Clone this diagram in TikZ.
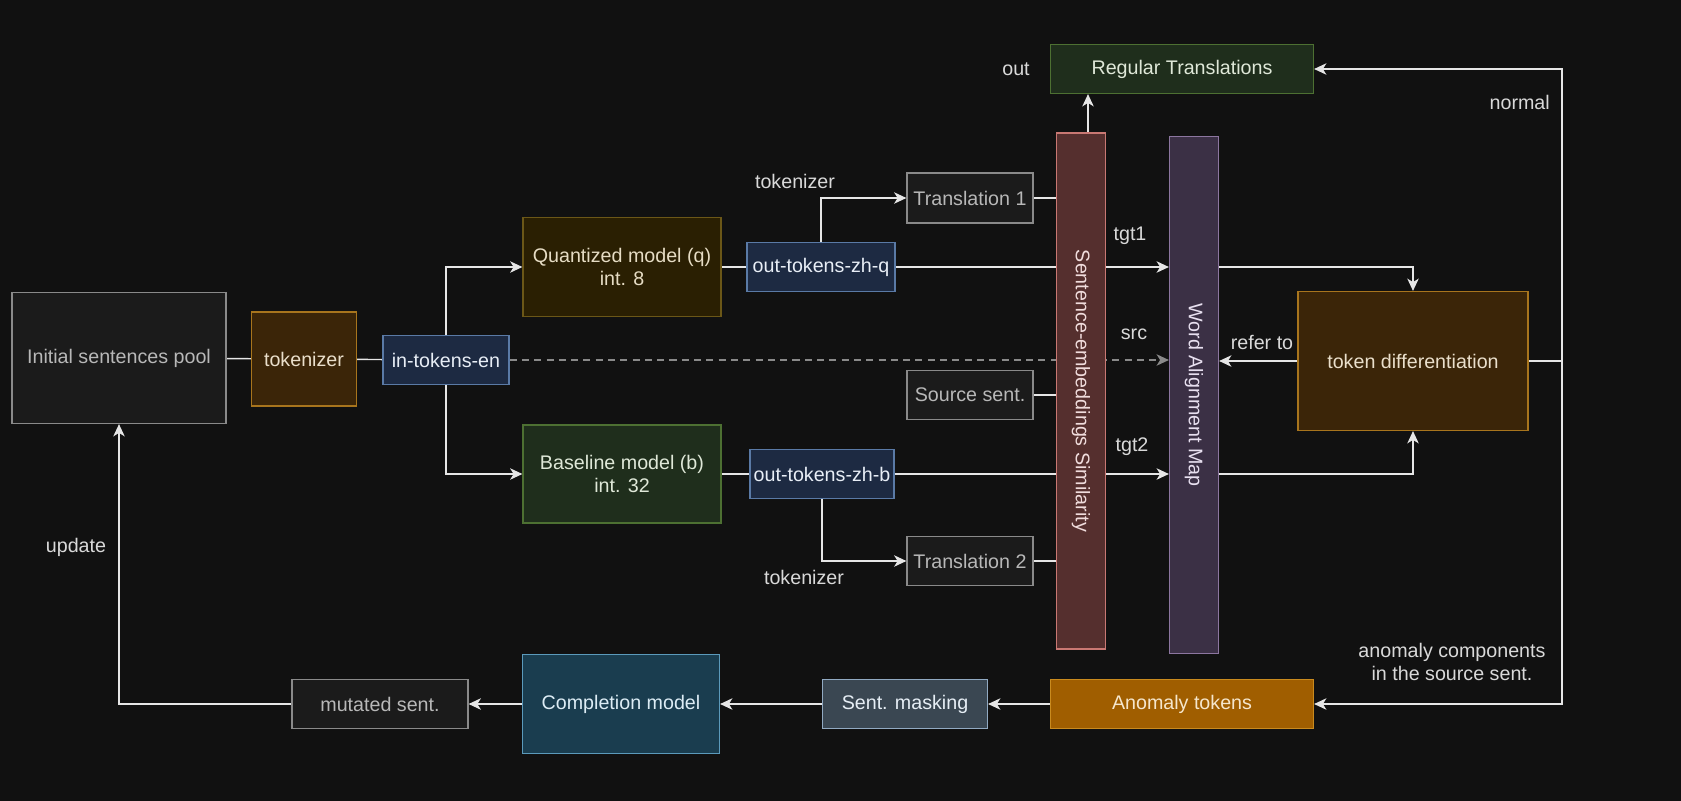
\documentclass[tikz,border=0pt]{standalone}
\usepackage{fontspec}
\setmainfont{Liberation Sans}
\usetikzlibrary{arrows.meta,backgrounds}

\definecolor{bgc}{HTML}{111111}
\definecolor{wire}{HTML}{E6E6E6}
\definecolor{lbl}{HTML}{D9D9D9}
\definecolor{grayfill}{HTML}{1B1B1B}
\definecolor{grayline}{HTML}{8A8A8A}
\definecolor{graytext}{HTML}{B8B8B8}
\definecolor{tokfill}{HTML}{3B2508}
\definecolor{tokline}{HTML}{A8751D}
\definecolor{toktext}{HTML}{EADFCB}
\definecolor{bluefill}{HTML}{1D2A42}
\definecolor{blueline}{HTML}{5A7AA6}
\definecolor{bluetext}{HTML}{E8EEF6}
\definecolor{quantfill}{HTML}{2A1F02}
\definecolor{quantline}{HTML}{6B5717}
\definecolor{quanttext}{HTML}{E6DCC4}
\definecolor{basefill}{HTML}{1F2E1C}
\definecolor{baseline}{HTML}{4D7032}
\definecolor{basetext}{HTML}{DFE8D8}
\definecolor{simfill}{HTML}{552F2E}
\definecolor{simline}{HTML}{C97873}
\definecolor{simtext}{HTML}{F0DCDC}
\definecolor{wamfill}{HTML}{3B3045}
\definecolor{wamline}{HTML}{8C76A0}
\definecolor{wamtext}{HTML}{E8E0F0}
\definecolor{anomfill}{HTML}{A05E00}
\definecolor{anomline}{HTML}{C98A1E}
\definecolor{anomtext}{HTML}{F5E6CC}
\definecolor{maskfill}{HTML}{3A4752}
\definecolor{maskline}{HTML}{91AAC2}
\definecolor{masktext}{HTML}{E6EEF5}
\definecolor{complfill}{HTML}{1A3D4F}
\definecolor{complline}{HTML}{5B9ABB}
\definecolor{compltext}{HTML}{DCECF5}

\begin{document}
\begin{tikzpicture}[x=0.02cm,y=-0.02cm,>={Stealth[length=7pt,width=6.5pt,inset=2pt]},
  every node/.style={font=\fontsize{11.2}{13.5}\selectfont},
  box/.style={draw, line width=0.7pt, minimum height=0.98cm, inner sep=2pt, align=center},
  graybox/.style={box, fill=grayfill, draw=grayline, text=graytext},
  tokbox/.style={box, fill=tokfill, draw=tokline, text=toktext},
  bluebox/.style={box, fill=bluefill, draw=blueline, text=bluetext},
  wlabel/.style={text=lbl},
  conn/.style={draw=wire, line width=0.8pt}]

% top row
\node[box, fill=basefill, draw=baseline, text=basetext, minimum width=5.26cm] (regtr) at (1182,69) {Regular Translations};
\node[wlabel] (outlbl) at (1016,69) {out};
\node[graybox, minimum width=2.52cm, minimum height=1cm] (trans1) at (970,198) {Translation 1};
\node[wlabel] (tok1lbl) at (795,181) {tokenizer};

% left part
\node[graybox, minimum width=4.28cm, minimum height=2.62cm] (pool) at (119,358) {Initial sentences pool};
\node[tokbox, minimum width=2.1cm, minimum height=1.88cm] (tok) at (304,359) {tokenizer};
\node[bluebox, minimum width=2.52cm] (intok) at (446,360) {in-tokens-en};

% models
\node[box, fill=quantfill, draw=quantline, text=quanttext, minimum width=3.96cm, minimum height=1.98cm] (quant) at (622,267) {Quantized model (q)\\int. 8};
\node[bluebox, minimum width=2.96cm] (outq) at (821,267) {out-tokens-zh-q};
\node[box, fill=basefill, draw=baseline, text=basetext, minimum width=3.96cm, minimum height=1.96cm] (base) at (622,474) {Baseline model (b)\\int. 32};
\node[bluebox, minimum width=2.88cm] (outb) at (822,474) {out-tokens-zh-b};
\node[graybox, minimum width=2.52cm] (srcs) at (970,395) {Source sent.};
\node[graybox, minimum width=2.52cm] (trans2) at (970,561) {Translation 2};
\node[wlabel] (tok2lbl) at (804,577) {tokenizer};

% bars
\node[box, fill=simfill, draw=simline, minimum width=0.98cm, minimum height=10.32cm] (sim) at (1081,391) {};
\node[rotate=-90, text=simtext] (simlbl) at (sim) {Sentence-embeddings Similarity};
\node[box, fill=wamfill, draw=wamline, minimum width=0.98cm, minimum height=10.34cm] (wam) at (1194,395) {};
\node[rotate=-90, text=wamtext] (wamlbl) at (wam) {Word Alignment Map};
\node[wlabel] (tgt1lbl) at (1130,236) {tgt1};
\node[wlabel] (srclbl) at (1134,334) {src};
\node[wlabel] (tgt2lbl) at (1132,447) {tgt2};

% right part
\node[tokbox, minimum width=4.6cm, minimum height=2.78cm] (tokdiff) at (1413,361) {token differentiation};
\node[wlabel] (refer) at (1262,342) {refer to};
\coordinate (rline) at (1562,361);
\coordinate (simtop) at (1088,133);
\node[wlabel, anchor=east] (normal) at (1556,102) {normal};
\node[wlabel, align=center] (anomlbl) at (1452,662) {anomaly components\\in the source sent.};

% bottom row
\node[box, fill=anomfill, draw=anomline, text=anomtext, minimum width=5.26cm] (anom) at (1182,704) {Anomaly tokens};
\node[box, fill=maskfill, draw=maskline, text=masktext, minimum width=3.3cm] (mask) at (905,704) {Sent. masking};
\node[box, fill=complfill, draw=complline, text=compltext, minimum width=3.94cm, minimum height=1.98cm] (compl) at (621,704) {Completion model};
\node[graybox, minimum width=3.52cm] (mut) at (380,704) {mutated sent.};
\node[wlabel] (update) at (76,547) {update};

\begin{pgfonlayer}{background}
\fill[bgc] (0,0) rectangle (1681,801);
\draw[conn] (pool) -- (tok);
\draw[conn] (tok) -- (intok);
\draw[conn,->] (intok.north) |- (quant.west);
\draw[conn,->] (intok.south) |- (base.west);
\draw[conn] (quant) -- (outq);
\draw[conn] (base) -- (outb);
\draw[conn,->] (outq.north) |- (trans1.west);
\draw[conn,->] (outb.south) |- (trans2.west);
\draw[conn] (trans1) -- (trans1 -| sim.west);
\draw[conn] (srcs) -- (srcs -| sim.west);
\draw[conn] (trans2) -- (trans2 -| sim.west);
\draw[conn,->] (outq.east) -- (outq -| wam.west);
\draw[conn,->] (outb.east) -- (outb -| wam.west);
\draw[draw=grayline, line width=0.8pt, dash pattern=on 4pt off 3pt, ->] (intok.east) -- (intok -| wam.west);
\draw[conn,->] (simtop) -- (simtop |- regtr.south);
\draw[conn,->] (tokdiff.west) -- (tokdiff -| wam.east);
\draw[conn,->] (wam.east |- outq) -| (tokdiff.north);
\draw[conn,->] (wam.east |- outb) -| (tokdiff.south);
\draw[conn] (tokdiff.east) -- (rline);
\draw[conn,->] (rline) |- (regtr.east);
\draw[conn,->] (rline) |- (anom.east);
\draw[conn,->] (anom) -- (mask);
\draw[conn,->] (mask) -- (compl);
\draw[conn,->] (compl) -- (mut);
\draw[conn,->] (mut.west) -| (pool.south);
\end{pgfonlayer}
\end{tikzpicture}
\end{document}
